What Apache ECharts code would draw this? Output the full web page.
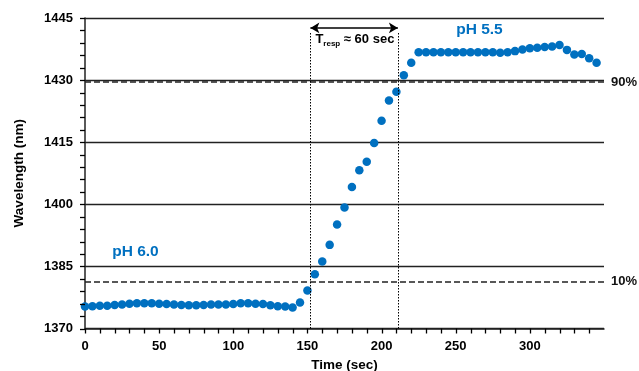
<!DOCTYPE html>
<html>
<head>
<meta charset="utf-8">
<script src="https://cdn.jsdelivr.net/npm/echarts@6/dist/echarts.min.js"></script>
<style>
html,body{margin:0;padding:0;background:#fff;}
#chart{width:639px;height:371px;}
</style>
</head>
<body>
<div id="chart"></div>
<script>
const times = [0,5,10,15,20,25,30,35,40,45,50,55,60,65,70,75,80,85,90,95,100,105,110,115,120,125,130,135,140,145,150,155,160,165,170,175,180,185,190,195,200,205,210,215,220,225,230,235,240,245,250,255,260,265,270,275,280,285,290,295,300,305,310,315,320,325,330,335,340,345];
const wavelengths = [1375.3,1375.4,1375.5,1375.5,1375.7,1375.8,1376.0,1376.1,1376.1,1376.1,1376.0,1375.9,1375.8,1375.7,1375.6,1375.6,1375.7,1375.8,1375.8,1375.8,1375.9,1376.1,1376.1,1376.0,1375.9,1375.6,1375.4,1375.3,1375.1,1376.3,1379.2,1383.1,1386.2,1390.2,1395.1,1399.2,1404.2,1408.2,1410.3,1414.8,1420.2,1425.1,1427.2,1431.2,1434.2,1436.7,1436.7,1436.7,1436.7,1436.7,1436.7,1436.7,1436.7,1436.7,1436.7,1436.7,1436.6,1436.7,1437.0,1437.4,1437.7,1437.8,1438.0,1438.1,1438.5,1437.3,1436.2,1436.3,1435.3,1434.2];
const thresholdValues = [1381.4, 1429.5];
const thresholdLabels = ['10%', '90%'];
const respTimes = [152, 211];
const respTop = 1441.5;
const arrowLevel = 1442.6;
const respText = ['T', 'resp', ' \u2248 60 sec'];
const phLabels = ['pH 6.0', 'pH 5.5'];
const phPositions = [[34, 1388.4], [266, 1442.1]];
const respLabelPos = [182, 1439.6];
const xTickValues = [0,10,20,30,40,50,60,70,80,90,100,110,120,130,140,150,160,170,180,190,200,210,220,230,240,250,260,270,280,290,300,310,320,330,340];
const yTickValues = [1370,1373,1376,1379,1382,1385,1388,1391,1394,1397,1400,1403,1406,1409,1412,1415,1418,1421,1424,1427,1430,1433,1436,1439,1442,1445];

const FONT = '"Liberation Sans", Arial, sans-serif';
const BLUE = '#0070C0';
const chart = echarts.init(document.getElementById('chart'), null, {renderer: 'canvas'});

const pts = times.map((t, i) => [t, wavelengths[i]]);

const markLineData = [];
thresholdValues.forEach((v, i) => {
  markLineData.push({
    yAxis: v,
    lineStyle: {type: [6, 3], color: '#222', width: 1.6},
    label: {show: true, position: 'end', formatter: thresholdLabels[i], color: '#111', fontWeight: 'bold', fontSize: 13, fontFamily: FONT, distance: 7}
  });
});
respTimes.forEach(t => {
  markLineData.push([
    {coord: [t, 1370], symbol: 'none', lineStyle: {type: [1.5, 1.5], color: '#000', width: 1}},
    {coord: [t, respTop], symbol: 'none'}
  ]);
});
markLineData.push([
  {coord: [respTimes[0], arrowLevel], symbol: 'arrow', symbolSize: [8, 9], lineStyle: {type: 'solid', color: '#000', width: 1.6}},
  {coord: [respTimes[1], arrowLevel], symbol: 'arrow', symbolSize: [8, 9]}
]);

const markPointData = phLabels.map((txt, i) => ({
  coord: phPositions[i],
  symbolSize: 1,
  itemStyle: {color: 'rgba(0,0,0,0)'},
  label: {show: true, position: 'inside', formatter: txt, color: BLUE, fontWeight: 'bold', fontSize: 15.5, fontFamily: FONT}
}));
markPointData.push({
  coord: respLabelPos,
  symbolSize: 1,
  itemStyle: {color: 'rgba(0,0,0,0)'},
  label: {
    show: true, position: 'inside',
    formatter: '{b|' + respText[0] + '}{s|' + respText[1] + '}{b|' + respText[2] + '}',
    rich: {
      b: {fontSize: 13, fontWeight: 'bold', color: '#000', fontFamily: FONT},
      s: {fontSize: 8, fontWeight: 'bold', color: '#000', fontFamily: FONT, padding: [7, 0, 0, 0]}
    }
  }
});

const option = {
  animation: false,
  backgroundColor: '#fff',
  grid: {left: 85, right: 35, top: 18, bottom: 42.5, containLabel: false, outerBoundsMode: 'none'},
  xAxis: {
    type: 'value', min: 0, max: 350, interval: 50,
    name: 'Time (sec)', nameLocation: 'middle', nameGap: 30,
    nameTextStyle: {fontWeight: 'bold', fontSize: 13.5, color: '#000', fontFamily: FONT},
    axisLine: {show: true, onZero: false, lineStyle: {color: '#222', width: 1.5}},
    axisTick: {show: false},
    splitLine: {show: false},
    axisLabel: {fontWeight: 'bold', fontSize: 13, color: '#000', fontFamily: FONT, margin: 11,
      formatter: v => (v === 350 ? '' : String(v))}
  },
  yAxis: {
    type: 'value', min: 1370, max: 1445, interval: 15,
    name: 'Wavelength (nm)', nameLocation: 'middle', nameGap: 59, nameRotate: 90,
    nameTextStyle: {fontWeight: 'bold', fontSize: 13.5, color: '#000', fontFamily: FONT},
    axisLine: {show: true, onZero: false, lineStyle: {color: '#222', width: 1.5}},
    axisTick: {show: false},
    splitLine: {show: true, lineStyle: {color: '#222', width: 1.3}},
    axisLabel: {fontWeight: 'bold', fontSize: 13, color: '#000', fontFamily: FONT, margin: 12,
      formatter: v => String(v)}
  },
  series: [{
    type: 'scatter',
    data: pts,
    symbolSize: 8.5,
    itemStyle: {color: BLUE, opacity: 1},
    markLine: {silent: true, symbol: 'none', animation: false, data: markLineData},
    markPoint: {silent: true, animation: false, data: markPointData}
  }]
};
chart.setOption(option);

// axis tick marks placed through the chart's own scales
const TICK = 5;
const tickEls = [];
const y0 = chart.convertToPixel({yAxisIndex: 0}, 1370);
const x0 = chart.convertToPixel({xAxisIndex: 0}, 0);
xTickValues.forEach(v => {
  const px = Math.round(chart.convertToPixel({xAxisIndex: 0}, v)) + 0.5;
  tickEls.push({type: 'line', silent: true, z: 10,
    shape: {x1: px, y1: y0, x2: px, y2: y0 + TICK},
    style: {stroke: '#000', lineWidth: 1.3}});
});
yTickValues.forEach(v => {
  const py = Math.round(chart.convertToPixel({yAxisIndex: 0}, v)) + 0.5;
  tickEls.push({type: 'line', silent: true, z: 10,
    shape: {x1: x0 - TICK, y1: py, x2: x0, y2: py},
    style: {stroke: '#000', lineWidth: 1.3}});
});
chart.setOption({graphic: tickEls});
</script>
</body>
</html>
